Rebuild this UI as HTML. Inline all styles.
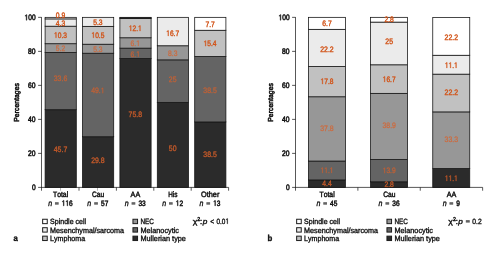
<!DOCTYPE html>
<html><head><meta charset="utf-8"><title>Figure</title>
<style>
html,body{margin:0;padding:0;background:#fff;}
body{width:496px;height:256px;overflow:hidden;font-family:"Liberation Sans",sans-serif;}
svg{display:block;font-family:"Liberation Sans",sans-serif;will-change:transform;opacity:0.999;text-rendering:geometricPrecision;font-kerning:none;}
.h{fill-opacity:0;stroke-opacity:0;}
</style></head><body>
<svg width="496" height="256" viewBox="0 0 496 256">
<rect width="496" height="256" fill="#ffffff"/>
<defs><path id="g1" d="M515 0V1237L197 1010V1180L530 1409H696V0Z"/></defs>
<rect x="45.10" y="109.69" width="31.20" height="77.71" fill="#2b2b2b" stroke="#151515" stroke-width="0.78"/>
<rect x="45.10" y="52.55" width="31.20" height="57.14" fill="#646464" stroke="#151515" stroke-width="0.78"/>
<rect x="45.10" y="43.71" width="31.20" height="8.84" fill="#979797" stroke="#151515" stroke-width="0.78"/>
<rect x="45.10" y="26.19" width="31.20" height="17.52" fill="#c1c1c1" stroke="#151515" stroke-width="0.78"/>
<rect x="45.10" y="18.88" width="31.20" height="7.31" fill="#ebebeb" stroke="#151515" stroke-width="0.78"/>
<rect x="45.10" y="17.35" width="31.20" height="1.53" fill="#ffffff" stroke="#151515" stroke-width="0.78"/>
<g transform="translate(60.50 152.10) scale(0.8780 1)" fill="#da6029" stroke="#da6029" stroke-width="0.3" opacity="0.9"><text x="-7.69 -3.29 1.10 3.29" y="0" font-size="7.9">45.7</text></g>
<g transform="translate(60.50 81.10) scale(0.8780 1)" fill="#da6029" stroke="#da6029" stroke-width="0.25" opacity="0.82"><text x="-7.69 -3.29 1.10 3.29" y="0" font-size="7.9">33.6</text></g>
<g transform="translate(60.50 50.60) scale(0.8559 1)" fill="#da6029" stroke="#da6029" stroke-width="0.25" opacity="0.82"><text x="-5.49 -1.10 1.10" y="0" font-size="7.9">5.2</text></g>
<g transform="translate(60.50 37.80) scale(0.8390 1)" fill="#d25317" stroke="#d25317" stroke-width="0.4"><text x="-7.69 -3.29 1.10 3.29" y="0" font-size="7.9"><tspan class="h">1</tspan>0.3</text><use href="#g1" transform="translate(-7.69 0) scale(0.00386 -0.00386)" stroke-width="103.7"/></g>
<g transform="translate(60.50 25.90) scale(0.8559 1)" fill="#d25317" stroke="#d25317" stroke-width="0.4"><text x="-5.49 -1.10 1.10" y="0" font-size="7.9">4.3</text></g>
<g transform="translate(60.50 17.80) scale(0.8559 1)" fill="#d25317" stroke="#d25317" stroke-width="0.4"><text x="-5.49 -1.10 1.10" y="0" font-size="7.9">0.9</text></g>
<rect x="82.50" y="136.73" width="31.20" height="50.67" fill="#2b2b2b" stroke="#151515" stroke-width="0.78"/>
<rect x="82.50" y="53.23" width="31.20" height="83.49" fill="#646464" stroke="#151515" stroke-width="0.78"/>
<rect x="82.50" y="44.22" width="31.20" height="9.01" fill="#979797" stroke="#151515" stroke-width="0.78"/>
<rect x="82.50" y="26.36" width="31.20" height="17.86" fill="#c1c1c1" stroke="#151515" stroke-width="0.78"/>
<rect x="82.50" y="17.35" width="31.20" height="9.01" fill="#ebebeb" stroke="#151515" stroke-width="0.78"/>
<g transform="translate(97.90 163.30) scale(0.8780 1)" fill="#da6029" stroke="#da6029" stroke-width="0.3" opacity="0.9"><text x="-7.69 -3.29 1.10 3.29" y="0" font-size="7.9">29.8</text></g>
<g transform="translate(97.90 93.20) scale(0.8780 1)" fill="#da6029" stroke="#da6029" stroke-width="0.25" opacity="0.82"><text x="-7.69 -3.29 1.10 3.29" y="0" font-size="7.9">49.<tspan class="h">1</tspan></text><use href="#g1" transform="translate(3.29 0) scale(0.00386 -0.00386)" stroke-width="64.8"/></g>
<g transform="translate(97.90 52.00) scale(0.8559 1)" fill="#da6029" stroke="#da6029" stroke-width="0.25" opacity="0.82"><text x="-5.49 -1.10 1.10" y="0" font-size="7.9">5.3</text></g>
<g transform="translate(97.90 37.80) scale(0.8390 1)" fill="#d25317" stroke="#d25317" stroke-width="0.4"><text x="-7.69 -3.29 1.10 3.29" y="0" font-size="7.9"><tspan class="h">1</tspan>0.5</text><use href="#g1" transform="translate(-7.69 0) scale(0.00386 -0.00386)" stroke-width="103.7"/></g>
<g transform="translate(97.90 25.10) scale(0.8559 1)" fill="#d25317" stroke="#d25317" stroke-width="0.4"><text x="-5.49 -1.10 1.10" y="0" font-size="7.9">5.3</text></g>
<rect x="119.90" y="58.50" width="31.20" height="128.90" fill="#2b2b2b" stroke="#151515" stroke-width="0.78"/>
<rect x="119.90" y="48.13" width="31.20" height="10.37" fill="#646464" stroke="#151515" stroke-width="0.78"/>
<rect x="119.90" y="37.76" width="31.20" height="10.37" fill="#979797" stroke="#151515" stroke-width="0.78"/>
<rect x="119.90" y="17.35" width="31.20" height="20.41" fill="#c1c1c1" stroke="#151515" stroke-width="0.78"/>
<rect x="119.45" y="17.35" width="32.10" height="1.6" fill="#151515"/>
<g transform="translate(135.30 116.60) scale(0.8780 1)" fill="#da6029" stroke="#da6029" stroke-width="0.3" opacity="0.9"><text x="-7.69 -3.29 1.10 3.29" y="0" font-size="7.9">75.8</text></g>
<g transform="translate(135.30 56.80) scale(0.8559 1)" fill="#da6029" stroke="#da6029" stroke-width="0.25" opacity="0.82"><text x="-5.49 -1.10 1.10" y="0" font-size="7.9">6.<tspan class="h">1</tspan></text><use href="#g1" transform="translate(1.10 0) scale(0.00386 -0.00386)" stroke-width="64.8"/></g>
<g transform="translate(135.30 45.90) scale(0.8559 1)" fill="#da6029" stroke="#da6029" stroke-width="0.25" opacity="0.82"><text x="-5.49 -1.10 1.10" y="0" font-size="7.9">6.<tspan class="h">1</tspan></text><use href="#g1" transform="translate(1.10 0) scale(0.00386 -0.00386)" stroke-width="64.8"/></g>
<g transform="translate(135.30 31.00) scale(0.8390 1)" fill="#d25317" stroke="#d25317" stroke-width="0.4"><text x="-7.69 -3.29 1.10 3.29" y="0" font-size="7.9"><tspan class="h">1</tspan>2.<tspan class="h">1</tspan></text><use href="#g1" transform="translate(-7.69 0) scale(0.00386 -0.00386)" stroke-width="103.7"/><use href="#g1" transform="translate(3.29 0) scale(0.00386 -0.00386)" stroke-width="103.7"/></g>
<rect x="157.30" y="102.38" width="31.20" height="85.02" fill="#2b2b2b" stroke="#151515" stroke-width="0.78"/>
<rect x="157.30" y="59.86" width="31.20" height="42.51" fill="#646464" stroke="#151515" stroke-width="0.78"/>
<rect x="157.30" y="45.75" width="31.20" height="14.11" fill="#979797" stroke="#151515" stroke-width="0.78"/>
<rect x="157.30" y="17.35" width="31.20" height="28.40" fill="#ebebeb" stroke="#151515" stroke-width="0.78"/>
<g transform="translate(172.70 150.90) scale(0.8763 1)" fill="#da6029" stroke="#da6029" stroke-width="0.3" opacity="0.9"><text x="-4.39 0.00" y="0" font-size="7.9">50</text></g>
<g transform="translate(172.70 82.00) scale(0.8763 1)" fill="#da6029" stroke="#da6029" stroke-width="0.25" opacity="0.82"><text x="-4.39 0.00" y="0" font-size="7.9">25</text></g>
<g transform="translate(172.70 55.80) scale(0.8559 1)" fill="#da6029" stroke="#da6029" stroke-width="0.25" opacity="0.82"><text x="-5.49 -1.10 1.10" y="0" font-size="7.9">8.3</text></g>
<g transform="translate(172.70 35.90) scale(0.8390 1)" fill="#d25317" stroke="#d25317" stroke-width="0.4"><text x="-7.69 -3.29 1.10 3.29" y="0" font-size="7.9"><tspan class="h">1</tspan>6.7</text><use href="#g1" transform="translate(-7.69 0) scale(0.00386 -0.00386)" stroke-width="103.7"/></g>
<rect x="194.70" y="121.93" width="31.20" height="65.47" fill="#2b2b2b" stroke="#151515" stroke-width="0.78"/>
<rect x="194.70" y="56.46" width="31.20" height="65.47" fill="#646464" stroke="#151515" stroke-width="0.78"/>
<rect x="194.70" y="30.27" width="31.20" height="26.19" fill="#c1c1c1" stroke="#151515" stroke-width="0.78"/>
<rect x="194.70" y="17.35" width="31.20" height="12.92" fill="#ffffff" stroke="#151515" stroke-width="0.78"/>
<g transform="translate(210.10 156.70) scale(0.8780 1)" fill="#da6029" stroke="#da6029" stroke-width="0.3" opacity="0.9"><text x="-7.69 -3.29 1.10 3.29" y="0" font-size="7.9">38.5</text></g>
<g transform="translate(210.10 92.60) scale(0.8780 1)" fill="#da6029" stroke="#da6029" stroke-width="0.25" opacity="0.82"><text x="-7.69 -3.29 1.10 3.29" y="0" font-size="7.9">38.5</text></g>
<g transform="translate(210.10 46.10) scale(0.8390 1)" fill="#d25317" stroke="#d25317" stroke-width="0.4"><text x="-7.69 -3.29 1.10 3.29" y="0" font-size="7.9"><tspan class="h">1</tspan>5.4</text><use href="#g1" transform="translate(-7.69 0) scale(0.00386 -0.00386)" stroke-width="103.7"/></g>
<g transform="translate(210.10 27.30) scale(0.8559 1)" fill="#d25317" stroke="#d25317" stroke-width="0.4"><text x="-5.49 -1.10 1.10" y="0" font-size="7.9">7.7</text></g>
<path d="M41.50 17.15V190.70M38.10 187.40H228.60" stroke="#161616" stroke-width="0.72" fill="none"/>
<g transform="translate(35.60 190.25) scale(0.8316 1)" fill="#111" stroke="#111" stroke-width="0.55"><text x="-4.45" y="0" font-size="8.0">0</text></g>
<path d="M38.10 153.39H41.50" stroke="#161616" stroke-width="0.72"/>
<g transform="translate(35.60 156.24) scale(0.8428 1)" fill="#111" stroke="#111" stroke-width="0.55"><text x="-8.90 -4.45" y="0" font-size="8.0">20</text></g>
<path d="M38.10 119.38H41.50" stroke="#161616" stroke-width="0.72"/>
<g transform="translate(35.60 122.23) scale(0.8428 1)" fill="#111" stroke="#111" stroke-width="0.55"><text x="-8.90 -4.45" y="0" font-size="8.0">40</text></g>
<path d="M38.10 85.37H41.50" stroke="#161616" stroke-width="0.72"/>
<g transform="translate(35.60 88.22) scale(0.8428 1)" fill="#111" stroke="#111" stroke-width="0.55"><text x="-8.90 -4.45" y="0" font-size="8.0">60</text></g>
<path d="M38.10 51.36H41.50" stroke="#161616" stroke-width="0.72"/>
<g transform="translate(35.60 54.21) scale(0.8428 1)" fill="#111" stroke="#111" stroke-width="0.55"><text x="-8.90 -4.45" y="0" font-size="8.0">80</text></g>
<path d="M38.10 17.35H41.50" stroke="#161616" stroke-width="0.72"/>
<g transform="translate(35.60 20.20) scale(0.8241 1)" fill="#111" stroke="#111" stroke-width="0.55"><text x="-13.35 -8.90 -4.45" y="0" font-size="8.0"><tspan class="h">1</tspan>00</text><use href="#g1" transform="translate(-13.35 0) scale(0.00391 -0.00391)" stroke-width="140.8"/></g>
<path d="M79.00 187.40V190.70" stroke="#161616" stroke-width="0.72"/>
<path d="M116.40 187.40V190.70" stroke="#161616" stroke-width="0.72"/>
<path d="M153.80 187.40V190.70" stroke="#161616" stroke-width="0.72"/>
<path d="M191.20 187.40V190.70" stroke="#161616" stroke-width="0.72"/>
<path d="M228.60 187.40V190.70" stroke="#161616" stroke-width="0.72"/>
<path d="M60.30 187.40V190.70" stroke="#111" stroke-width="0.5" opacity="0.75"/>
<path d="M97.70 187.40V190.70" stroke="#111" stroke-width="0.5" opacity="0.75"/>
<g transform="translate(60.60 197.00) scale(0.8766 1)" fill="#111" stroke="#111" stroke-width="0.45"><text x="-8.67 -3.91 0.43 2.60 6.94" y="0" font-size="7.8">Total</text></g>
<g transform="translate(48.13 205.80) scale(0.8552 1)" fill="#111" stroke="#111" stroke-width="0.36"><text x="0.00" y="0" font-size="8.2" font-style="italic">n</text></g>
<text class="h" x="54.98" y="205.8" font-size="7.6">=</text><path d="M54.98 202.9h3.7M54.98 204.0h3.7" stroke="#111" stroke-width="0.9" fill="none"/>
<g transform="translate(61.78 205.80) scale(0.8414 1)" fill="#111" stroke="#111" stroke-width="0.5"><text x="0.00 4.34 8.68" y="0" font-size="7.8"><tspan class="h">1</tspan><tspan class="h">1</tspan>6</text><use href="#g1" transform="translate(0.00 0) scale(0.00381 -0.00381)" stroke-width="131.3"/><use href="#g1" transform="translate(4.34 0) scale(0.00381 -0.00381)" stroke-width="131.3"/></g>
<g transform="translate(98.00 197.00) scale(0.8526 1)" fill="#111" stroke="#111" stroke-width="0.45"><text x="-7.15 -1.52 2.82" y="0" font-size="7.8">Cau</text></g>
<g transform="translate(87.35 205.80) scale(0.8552 1)" fill="#111" stroke="#111" stroke-width="0.36"><text x="0.00" y="0" font-size="8.2" font-style="italic">n</text></g>
<text class="h" x="94.20" y="205.8" font-size="7.6">=</text><path d="M94.20 202.9h3.7M94.20 204.0h3.7" stroke="#111" stroke-width="0.9" fill="none"/>
<g transform="translate(101.00 205.80) scale(0.8414 1)" fill="#111" stroke="#111" stroke-width="0.5"><text x="0.00 4.34" y="0" font-size="7.8">57</text></g>
<g transform="translate(135.40 197.00) scale(0.9226 1)" fill="#111" stroke="#111" stroke-width="0.45"><text x="-5.20 0.00" y="0" font-size="7.8">AA</text></g>
<g transform="translate(124.75 205.80) scale(0.8552 1)" fill="#111" stroke="#111" stroke-width="0.36"><text x="0.00" y="0" font-size="8.2" font-style="italic">n</text></g>
<text class="h" x="131.60" y="205.8" font-size="7.6">=</text><path d="M131.60 202.9h3.7M131.60 204.0h3.7" stroke="#111" stroke-width="0.9" fill="none"/>
<g transform="translate(138.40 205.80) scale(0.8414 1)" fill="#111" stroke="#111" stroke-width="0.5"><text x="0.00 4.34" y="0" font-size="7.8">33</text></g>
<g transform="translate(172.80 197.00) scale(0.8255 1)" fill="#111" stroke="#111" stroke-width="0.45"><text x="-5.63 0.00 1.73" y="0" font-size="7.8">His</text></g>
<g transform="translate(162.15 205.80) scale(0.8552 1)" fill="#111" stroke="#111" stroke-width="0.36"><text x="0.00" y="0" font-size="8.2" font-style="italic">n</text></g>
<text class="h" x="169.00" y="205.8" font-size="7.6">=</text><path d="M169.00 202.9h3.7M169.00 204.0h3.7" stroke="#111" stroke-width="0.9" fill="none"/>
<g transform="translate(175.80 205.80) scale(0.8414 1)" fill="#111" stroke="#111" stroke-width="0.5"><text x="0.00 4.34" y="0" font-size="7.8"><tspan class="h">1</tspan>2</text><use href="#g1" transform="translate(0.00 0) scale(0.00381 -0.00381)" stroke-width="131.3"/></g>
<g transform="translate(210.20 197.00) scale(0.9432 1)" fill="#111" stroke="#111" stroke-width="0.45"><text x="-9.75 -3.69 -1.52 2.82 7.16" y="0" font-size="7.8">Other</text></g>
<g transform="translate(199.55 205.80) scale(0.8552 1)" fill="#111" stroke="#111" stroke-width="0.36"><text x="0.00" y="0" font-size="8.2" font-style="italic">n</text></g>
<text class="h" x="206.40" y="205.8" font-size="7.6">=</text><path d="M206.40 202.9h3.7M206.40 204.0h3.7" stroke="#111" stroke-width="0.9" fill="none"/>
<g transform="translate(213.20 205.80) scale(0.8414 1)" fill="#111" stroke="#111" stroke-width="0.5"><text x="0.00 4.34" y="0" font-size="7.8"><tspan class="h">1</tspan>3</text><use href="#g1" transform="translate(0.00 0) scale(0.00381 -0.00381)" stroke-width="131.3"/></g>
<g transform="translate(19.30 102.40) rotate(-90) scale(0.9466 1)" fill="#111" stroke="#111" stroke-width="0.5"><text x="-20.49 -15.62 -11.56 -9.13 -5.48 -1.42 2.64 4.66 8.72 12.78 16.84" y="0" font-size="7.3">Percentages</text></g>
<rect x="42.65" y="219.25" width="4.6" height="4.4" fill="#ffffff" stroke="#1c1c1c" stroke-width="1"/>
<g transform="translate(50.10 224.10) scale(0.9262 1)" fill="#111" stroke="#111" stroke-width="0.36"><text x="0.00 5.07 9.30 10.98 15.21 19.44 21.13 25.35 27.46 31.26 35.49 37.18" y="0" font-size="7.6">Spindle cell</text></g>
<rect x="42.65" y="227.70" width="4.6" height="4.4" fill="#ebebeb" stroke="#1c1c1c" stroke-width="1"/>
<g transform="translate(50.10 232.55) scale(0.9470 1)" fill="#111" stroke="#111" stroke-width="0.36"><text x="0.00 6.33 10.56 14.36 18.58 22.81 26.61 30.84 34.64 40.97 45.20 46.88 49.00 52.80 57.02 59.55 63.35 67.58 73.91" y="0" font-size="7.6">Mesenchymal/sarcoma</text></g>
<rect x="42.65" y="236.15" width="4.6" height="4.4" fill="#c1c1c1" stroke="#1c1c1c" stroke-width="1"/>
<g transform="translate(50.10 241.00) scale(0.9310 1)" fill="#111" stroke="#111" stroke-width="0.36"><text x="0.00 4.23 8.03 14.36 18.58 22.81 27.04 33.37" y="0" font-size="7.6">Lymphoma</text></g>
<rect x="132.95" y="219.25" width="4.6" height="4.4" fill="#979797" stroke="#1c1c1c" stroke-width="1"/>
<g transform="translate(140.50 224.10) scale(0.8413 1)" fill="#111" stroke="#111" stroke-width="0.36"><text x="0.00 5.49 10.56" y="0" font-size="7.6">NEC</text></g>
<rect x="132.95" y="227.70" width="4.6" height="4.4" fill="#646464" stroke="#1c1c1c" stroke-width="1"/>
<g transform="translate(140.50 232.55) scale(0.9595 1)" fill="#111" stroke="#111" stroke-width="0.36"><text x="0.00 6.33 10.56 12.25 16.47 20.70 24.93 28.73 32.53 34.64 36.33" y="0" font-size="7.6">Melanocytic</text></g>
<rect x="132.95" y="236.15" width="4.6" height="4.4" fill="#2b2b2b" stroke="#1c1c1c" stroke-width="1"/>
<g transform="translate(140.50 241.00) scale(0.9596 1)" fill="#111" stroke="#111" stroke-width="0.36"><text x="0.00 6.33 10.56 12.25 13.93 18.16 20.69 22.38 26.61 30.83 32.95 35.06 38.86 43.08" y="0" font-size="7.6">Mullerian type</text></g>
<g transform="translate(192.75 223.80) scale(1.1531 1)" fill="#111" stroke="#111" stroke-width="0.36"><text x="0.00" y="0" font-size="7.6">χ</text></g>
<g transform="translate(197.35 220.80) scale(0.9311 1)" fill="#111" stroke="#111" stroke-width="0.45"><text x="0.00" y="0" font-size="5.6">2</text></g>
<g transform="translate(200.05 223.80) scale(1.0000 1)" fill="#111" stroke="#111" stroke-width="0.5"><text x="0.00" y="0" font-size="7.6">:</text></g>
<g transform="translate(202.75 223.80) scale(1.0883 1)" fill="#111" stroke="#111" stroke-width="0.36"><text x="0.00" y="0" font-size="7.6" font-style="italic">p</text></g>
<g transform="translate(210.25 223.80) scale(0.8787 1)" fill="#111" stroke="#111" stroke-width="0.36"><text x="0.00" y="0" font-size="7.6">&lt;</text></g>
<g transform="translate(216.50 223.80) scale(0.8451 1)" fill="#111" stroke="#111" stroke-width="0.36"><text x="0.00 4.23 6.34 10.57" y="0" font-size="7.6">0.0<tspan class="h">1</tspan></text><use href="#g1" transform="translate(10.57 0) scale(0.00371 -0.00371)" stroke-width="97.0"/></g>
<rect x="308.39" y="179.92" width="37.00" height="7.48" fill="#2b2b2b" stroke="#151515" stroke-width="0.78"/>
<rect x="308.39" y="161.04" width="37.00" height="18.88" fill="#646464" stroke="#151515" stroke-width="0.78"/>
<rect x="308.39" y="96.76" width="37.00" height="64.28" fill="#979797" stroke="#151515" stroke-width="0.78"/>
<rect x="308.39" y="66.49" width="37.00" height="30.27" fill="#c1c1c1" stroke="#151515" stroke-width="0.78"/>
<rect x="308.39" y="29.34" width="37.00" height="37.16" fill="#ebebeb" stroke="#151515" stroke-width="0.78"/>
<rect x="308.39" y="17.35" width="37.00" height="11.99" fill="#ffffff" stroke="#151515" stroke-width="0.78"/>
<g transform="translate(326.99 185.60) scale(0.8559 1)" fill="#da6029" stroke="#da6029" stroke-width="0.3" opacity="0.9"><text x="-5.49 -1.10 1.10" y="0" font-size="7.9">4.4</text></g>
<g transform="translate(326.99 173.00) scale(0.8390 1)" fill="#da6029" stroke="#da6029" stroke-width="0.25" opacity="0.82"><text x="-7.69 -3.29 1.10 3.29" y="0" font-size="7.9"><tspan class="h">1</tspan><tspan class="h">1</tspan>.<tspan class="h">1</tspan></text><use href="#g1" transform="translate(-7.69 0) scale(0.00386 -0.00386)" stroke-width="64.8"/><use href="#g1" transform="translate(-3.29 0) scale(0.00386 -0.00386)" stroke-width="64.8"/><use href="#g1" transform="translate(3.29 0) scale(0.00386 -0.00386)" stroke-width="64.8"/></g>
<g transform="translate(326.99 130.90) scale(0.8780 1)" fill="#da6029" stroke="#da6029" stroke-width="0.25" opacity="0.82"><text x="-7.69 -3.29 1.10 3.29" y="0" font-size="7.9">37.8</text></g>
<g transform="translate(326.99 84.00) scale(0.8390 1)" fill="#d25317" stroke="#d25317" stroke-width="0.4"><text x="-7.69 -3.29 1.10 3.29" y="0" font-size="7.9"><tspan class="h">1</tspan>7.8</text><use href="#g1" transform="translate(-7.69 0) scale(0.00386 -0.00386)" stroke-width="103.7"/></g>
<g transform="translate(326.99 51.60) scale(0.8780 1)" fill="#d25317" stroke="#d25317" stroke-width="0.4"><text x="-7.69 -3.29 1.10 3.29" y="0" font-size="7.9">22.2</text></g>
<g transform="translate(326.99 25.90) scale(0.8559 1)" fill="#d25317" stroke="#d25317" stroke-width="0.4"><text x="-5.49 -1.10 1.10" y="0" font-size="7.9">6.7</text></g>
<rect x="370.57" y="181.79" width="37.00" height="5.61" fill="#2b2b2b" stroke="#151515" stroke-width="0.78"/>
<rect x="370.57" y="159.51" width="37.00" height="22.28" fill="#646464" stroke="#151515" stroke-width="0.78"/>
<rect x="370.57" y="93.36" width="37.00" height="66.15" fill="#979797" stroke="#151515" stroke-width="0.78"/>
<rect x="370.57" y="64.79" width="37.00" height="28.57" fill="#c1c1c1" stroke="#151515" stroke-width="0.78"/>
<rect x="370.57" y="22.11" width="37.00" height="42.68" fill="#ebebeb" stroke="#151515" stroke-width="0.78"/>
<rect x="370.57" y="17.35" width="37.00" height="4.76" fill="#ffffff" stroke="#151515" stroke-width="0.78"/>
<g transform="translate(389.17 186.50) scale(0.8559 1)" fill="#da6029" stroke="#da6029" stroke-width="0.3" opacity="0.9"><text x="-5.49 -1.10 1.10" y="0" font-size="7.9">2.8</text></g>
<g transform="translate(389.17 173.20) scale(0.8390 1)" fill="#da6029" stroke="#da6029" stroke-width="0.25" opacity="0.82"><text x="-7.69 -3.29 1.10 3.29" y="0" font-size="7.9"><tspan class="h">1</tspan>3.9</text><use href="#g1" transform="translate(-7.69 0) scale(0.00386 -0.00386)" stroke-width="64.8"/></g>
<g transform="translate(389.17 128.00) scale(0.8780 1)" fill="#da6029" stroke="#da6029" stroke-width="0.25" opacity="0.82"><text x="-7.69 -3.29 1.10 3.29" y="0" font-size="7.9">38.9</text></g>
<g transform="translate(389.17 81.90) scale(0.8390 1)" fill="#d25317" stroke="#d25317" stroke-width="0.4"><text x="-7.69 -3.29 1.10 3.29" y="0" font-size="7.9"><tspan class="h">1</tspan>6.7</text><use href="#g1" transform="translate(-7.69 0) scale(0.00386 -0.00386)" stroke-width="103.7"/></g>
<g transform="translate(389.17 43.80) scale(0.8763 1)" fill="#d25317" stroke="#d25317" stroke-width="0.4"><text x="-4.39 0.00" y="0" font-size="7.9">25</text></g>
<g transform="translate(389.17 21.70) scale(0.8559 1)" fill="#d25317" stroke="#d25317" stroke-width="0.4"><text x="-5.49 -1.10 1.10" y="0" font-size="7.9">2.8</text></g>
<rect x="432.75" y="168.52" width="37.00" height="18.88" fill="#2b2b2b" stroke="#151515" stroke-width="0.78"/>
<rect x="432.75" y="111.90" width="37.00" height="56.63" fill="#979797" stroke="#151515" stroke-width="0.78"/>
<rect x="432.75" y="74.15" width="37.00" height="37.75" fill="#c1c1c1" stroke="#151515" stroke-width="0.78"/>
<rect x="432.75" y="55.27" width="37.00" height="18.88" fill="#ebebeb" stroke="#151515" stroke-width="0.78"/>
<rect x="432.75" y="17.52" width="37.00" height="37.75" fill="#ffffff" stroke="#151515" stroke-width="0.78"/>
<g transform="translate(451.35 181.00) scale(0.8390 1)" fill="#da6029" stroke="#da6029" stroke-width="0.3" opacity="0.9"><text x="-7.69 -3.29 1.10 3.29" y="0" font-size="7.9"><tspan class="h">1</tspan><tspan class="h">1</tspan>.<tspan class="h">1</tspan></text><use href="#g1" transform="translate(-7.69 0) scale(0.00386 -0.00386)" stroke-width="77.8"/><use href="#g1" transform="translate(-3.29 0) scale(0.00386 -0.00386)" stroke-width="77.8"/><use href="#g1" transform="translate(3.29 0) scale(0.00386 -0.00386)" stroke-width="77.8"/></g>
<g transform="translate(451.35 142.10) scale(0.8780 1)" fill="#da6029" stroke="#da6029" stroke-width="0.25" opacity="0.82"><text x="-7.69 -3.29 1.10 3.29" y="0" font-size="7.9">33.3</text></g>
<g transform="translate(451.35 94.70) scale(0.8780 1)" fill="#d25317" stroke="#d25317" stroke-width="0.4"><text x="-7.69 -3.29 1.10 3.29" y="0" font-size="7.9">22.2</text></g>
<g transform="translate(451.35 67.90) scale(0.8390 1)" fill="#d25317" stroke="#d25317" stroke-width="0.4"><text x="-7.69 -3.29 1.10 3.29" y="0" font-size="7.9"><tspan class="h">1</tspan><tspan class="h">1</tspan>.<tspan class="h">1</tspan></text><use href="#g1" transform="translate(-7.69 0) scale(0.00386 -0.00386)" stroke-width="103.7"/><use href="#g1" transform="translate(-3.29 0) scale(0.00386 -0.00386)" stroke-width="103.7"/><use href="#g1" transform="translate(3.29 0) scale(0.00386 -0.00386)" stroke-width="103.7"/></g>
<g transform="translate(451.35 40.00) scale(0.8780 1)" fill="#d25317" stroke="#d25317" stroke-width="0.4"><text x="-7.69 -3.29 1.10 3.29" y="0" font-size="7.9">22.2</text></g>
<path d="M295.50 17.15V190.70M292.10 187.40H482.64" stroke="#161616" stroke-width="0.72" fill="none"/>
<g transform="translate(289.60 190.25) scale(0.8316 1)" fill="#111" stroke="#111" stroke-width="0.55"><text x="-4.45" y="0" font-size="8.0">0</text></g>
<path d="M292.10 153.39H295.50" stroke="#161616" stroke-width="0.72"/>
<g transform="translate(289.60 156.24) scale(0.8428 1)" fill="#111" stroke="#111" stroke-width="0.55"><text x="-8.90 -4.45" y="0" font-size="8.0">20</text></g>
<path d="M292.10 119.38H295.50" stroke="#161616" stroke-width="0.72"/>
<g transform="translate(289.60 122.23) scale(0.8428 1)" fill="#111" stroke="#111" stroke-width="0.55"><text x="-8.90 -4.45" y="0" font-size="8.0">40</text></g>
<path d="M292.10 85.37H295.50" stroke="#161616" stroke-width="0.72"/>
<g transform="translate(289.60 88.22) scale(0.8428 1)" fill="#111" stroke="#111" stroke-width="0.55"><text x="-8.90 -4.45" y="0" font-size="8.0">60</text></g>
<path d="M292.10 51.36H295.50" stroke="#161616" stroke-width="0.72"/>
<g transform="translate(289.60 54.21) scale(0.8428 1)" fill="#111" stroke="#111" stroke-width="0.55"><text x="-8.90 -4.45" y="0" font-size="8.0">80</text></g>
<path d="M292.10 17.35H295.50" stroke="#161616" stroke-width="0.72"/>
<g transform="translate(289.60 20.20) scale(0.8241 1)" fill="#111" stroke="#111" stroke-width="0.55"><text x="-13.35 -8.90 -4.45" y="0" font-size="8.0"><tspan class="h">1</tspan>00</text><use href="#g1" transform="translate(-13.35 0) scale(0.00391 -0.00391)" stroke-width="140.8"/></g>
<path d="M357.88 187.40V190.70" stroke="#161616" stroke-width="0.72"/>
<path d="M420.26 187.40V190.70" stroke="#161616" stroke-width="0.72"/>
<path d="M482.64 187.40V190.70" stroke="#161616" stroke-width="0.72"/>
<g transform="translate(327.09 197.00) scale(0.8766 1)" fill="#111" stroke="#111" stroke-width="0.45"><text x="-8.67 -3.91 0.43 2.60 6.94" y="0" font-size="7.8">Total</text></g>
<g transform="translate(316.44 205.80) scale(0.8552 1)" fill="#111" stroke="#111" stroke-width="0.36"><text x="0.00" y="0" font-size="8.2" font-style="italic">n</text></g>
<text class="h" x="323.29" y="205.8" font-size="7.6">=</text><path d="M323.29 202.9h3.7M323.29 204.0h3.7" stroke="#111" stroke-width="0.9" fill="none"/>
<g transform="translate(330.09 205.80) scale(0.8414 1)" fill="#111" stroke="#111" stroke-width="0.5"><text x="0.00 4.34" y="0" font-size="7.8">45</text></g>
<g transform="translate(389.27 197.00) scale(0.8526 1)" fill="#111" stroke="#111" stroke-width="0.45"><text x="-7.15 -1.52 2.82" y="0" font-size="7.8">Cau</text></g>
<g transform="translate(378.62 205.80) scale(0.8552 1)" fill="#111" stroke="#111" stroke-width="0.36"><text x="0.00" y="0" font-size="8.2" font-style="italic">n</text></g>
<text class="h" x="385.47" y="205.8" font-size="7.6">=</text><path d="M385.47 202.9h3.7M385.47 204.0h3.7" stroke="#111" stroke-width="0.9" fill="none"/>
<g transform="translate(392.27 205.80) scale(0.8414 1)" fill="#111" stroke="#111" stroke-width="0.5"><text x="0.00 4.34" y="0" font-size="7.8">36</text></g>
<g transform="translate(451.45 197.00) scale(0.9226 1)" fill="#111" stroke="#111" stroke-width="0.45"><text x="-5.20 0.00" y="0" font-size="7.8">AA</text></g>
<g transform="translate(442.63 205.80) scale(0.8552 1)" fill="#111" stroke="#111" stroke-width="0.36"><text x="0.00" y="0" font-size="8.2" font-style="italic">n</text></g>
<text class="h" x="449.48" y="205.8" font-size="7.6">=</text><path d="M449.48 202.9h3.7M449.48 204.0h3.7" stroke="#111" stroke-width="0.9" fill="none"/>
<g transform="translate(456.28 205.80) scale(0.8414 1)" fill="#111" stroke="#111" stroke-width="0.5"><text x="0.00" y="0" font-size="7.8">9</text></g>
<g transform="translate(273.30 102.40) rotate(-90) scale(0.9466 1)" fill="#111" stroke="#111" stroke-width="0.5"><text x="-20.49 -15.62 -11.56 -9.13 -5.48 -1.42 2.64 4.66 8.72 12.78 16.84" y="0" font-size="7.3">Percentages</text></g>
<rect x="296.65" y="219.25" width="4.6" height="4.4" fill="#ffffff" stroke="#1c1c1c" stroke-width="1"/>
<g transform="translate(304.10 224.10) scale(0.9262 1)" fill="#111" stroke="#111" stroke-width="0.36"><text x="0.00 5.07 9.30 10.98 15.21 19.44 21.13 25.35 27.46 31.26 35.49 37.18" y="0" font-size="7.6">Spindle cell</text></g>
<rect x="296.65" y="227.70" width="4.6" height="4.4" fill="#ebebeb" stroke="#1c1c1c" stroke-width="1"/>
<g transform="translate(304.10 232.55) scale(0.9470 1)" fill="#111" stroke="#111" stroke-width="0.36"><text x="0.00 6.33 10.56 14.36 18.58 22.81 26.61 30.84 34.64 40.97 45.20 46.88 49.00 52.80 57.02 59.55 63.35 67.58 73.91" y="0" font-size="7.6">Mesenchymal/sarcoma</text></g>
<rect x="296.65" y="236.15" width="4.6" height="4.4" fill="#c1c1c1" stroke="#1c1c1c" stroke-width="1"/>
<g transform="translate(304.10 241.00) scale(0.9310 1)" fill="#111" stroke="#111" stroke-width="0.36"><text x="0.00 4.23 8.03 14.36 18.58 22.81 27.04 33.37" y="0" font-size="7.6">Lymphoma</text></g>
<rect x="386.95" y="219.25" width="4.6" height="4.4" fill="#979797" stroke="#1c1c1c" stroke-width="1"/>
<g transform="translate(394.50 224.10) scale(0.8413 1)" fill="#111" stroke="#111" stroke-width="0.36"><text x="0.00 5.49 10.56" y="0" font-size="7.6">NEC</text></g>
<rect x="386.95" y="227.70" width="4.6" height="4.4" fill="#646464" stroke="#1c1c1c" stroke-width="1"/>
<g transform="translate(394.50 232.55) scale(0.9595 1)" fill="#111" stroke="#111" stroke-width="0.36"><text x="0.00 6.33 10.56 12.25 16.47 20.70 24.93 28.73 32.53 34.64 36.33" y="0" font-size="7.6">Melanocytic</text></g>
<rect x="386.95" y="236.15" width="4.6" height="4.4" fill="#2b2b2b" stroke="#1c1c1c" stroke-width="1"/>
<g transform="translate(394.50 241.00) scale(0.9596 1)" fill="#111" stroke="#111" stroke-width="0.36"><text x="0.00 6.33 10.56 12.25 13.93 18.16 20.69 22.38 26.61 30.83 32.95 35.06 38.86 43.08" y="0" font-size="7.6">Mullerian type</text></g>
<g transform="translate(448.35 223.80) scale(1.1531 1)" fill="#111" stroke="#111" stroke-width="0.36"><text x="0.00" y="0" font-size="7.6">χ</text></g>
<g transform="translate(452.95 220.80) scale(0.9311 1)" fill="#111" stroke="#111" stroke-width="0.45"><text x="0.00" y="0" font-size="5.6">2</text></g>
<g transform="translate(455.65 223.80) scale(1.0000 1)" fill="#111" stroke="#111" stroke-width="0.5"><text x="0.00" y="0" font-size="7.6">:</text></g>
<g transform="translate(458.35 223.80) scale(1.0883 1)" fill="#111" stroke="#111" stroke-width="0.36"><text x="0.00" y="0" font-size="7.6" font-style="italic">p</text></g>
<text class="h" x="465.85" y="223.8" font-size="7.6">=</text><path d="M465.85 220.85h3.9M465.85 221.95h3.9" stroke="#111" stroke-width="0.9" fill="none"/>
<g transform="translate(472.35 223.80) scale(0.8850 1)" fill="#111" stroke="#111" stroke-width="0.36"><text x="0.00 4.23 6.34" y="0" font-size="7.6">0.2</text></g>
<g transform="translate(13.40 240.90) scale(0.8990 1)" fill="#111" stroke="#111" stroke-width="0.36"><text x="0.00" y="0" font-size="8.6" font-weight="bold">a</text></g>
<g transform="translate(267.40 240.90) scale(0.9137 1)" fill="#111" stroke="#111" stroke-width="0.36"><text x="0.00" y="0" font-size="8.6" font-weight="bold">b</text></g>
</svg>
</body></html>
